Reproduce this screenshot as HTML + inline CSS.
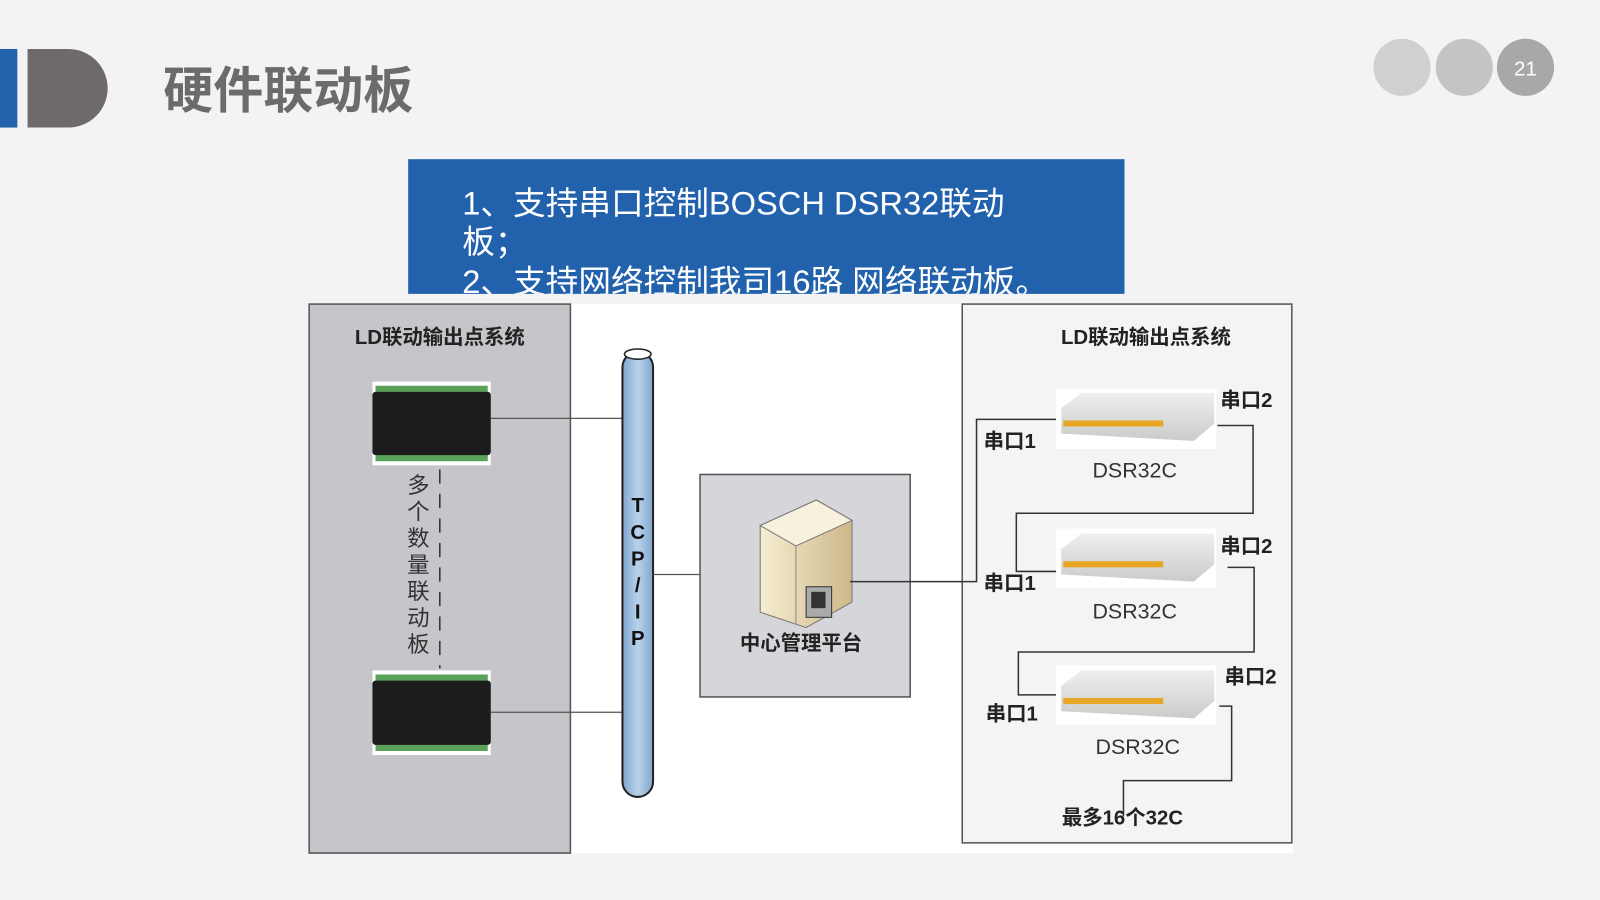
<!DOCTYPE html>
<html><head><meta charset="utf-8"><style>
html,body{margin:0;padding:0;background:#f3f3f5;overflow:hidden}
svg{display:block}
text{font-family:"Liberation Sans","Noto Sans CJK SC",sans-serif}
</style></head><body>
<svg width="1600" height="900" viewBox="0 0 1568 882" xmlns="http://www.w3.org/2000/svg">
<defs>
<linearGradient id="pipe" x1="0" x2="1"><stop offset="0" stop-color="#7ea6cf"/><stop offset="0.5" stop-color="#b9d2ea"/><stop offset="1" stop-color="#7ea6cf"/></linearGradient>
<linearGradient id="srv" x1="0" x2="1"><stop offset="0" stop-color="#f5ecd0"/><stop offset="1" stop-color="#cdb98a"/></linearGradient>
<linearGradient id="dev" x1="0" y1="0" x2="0" y2="1"><stop offset="0" stop-color="#eef0ee"/><stop offset="1" stop-color="#c9ccc9"/></linearGradient>
</defs>
<rect width="1568" height="882" fill="#f3f3f5"/>
<rect x="0" y="48" width="17" height="77" fill="#2262ac"/>
<path d="M27 48 H67 A38.5 38.5 0 0 1 67 125 H27 Z" fill="#6e6a6a"/>
<text x="160" y="106" font-size="49" font-weight="bold" fill="#6b6b6b">硬件联动板</text>
<circle cx="1374" cy="66" r="28" fill="#d0d0d2"/>
<circle cx="1435" cy="66" r="28" fill="#c4c4c6"/>
<circle cx="1495" cy="66" r="28" fill="#a8a8aa"/>
<text x="1495" y="74" font-size="20" fill="#fff" text-anchor="middle">21</text>
<rect x="400" y="156" width="702" height="132" fill="#2262ac"/>
<svg x="400" y="156" width="702" height="132">
<text x="53" y="54" font-size="32" fill="#fff">1、支持串口控制BOSCH DSR32联动</text>
<text x="53" y="92" font-size="32" fill="#fff">板；</text>
<text x="53" y="131" font-size="32" fill="#fff">2、支持网络控制我司16路 网络联动板。</text>
</svg>
<rect x="303" y="298" width="964" height="538" fill="#fff"/>
<rect x="303" y="298" width="256" height="538" fill="#c6c5c9" stroke="#555" stroke-width="1.5"/>
<text x="431" y="337" font-size="20" font-weight="bold" text-anchor="middle" fill="#222">LD联动输出点系统</text>
<g>
<rect x="365" y="374" width="116" height="82" fill="#fff"/>
<rect x="368" y="378" width="110" height="8" fill="#5aa15a"/>
<rect x="368" y="444" width="110" height="8" fill="#5aa15a"/>
<rect x="365" y="384" width="116" height="62" rx="3" fill="#1c1c1c"/>
<rect x="365" y="657" width="116" height="83" fill="#fff"/>
<rect x="368" y="661" width="110" height="8" fill="#5aa15a"/>
<rect x="368" y="728" width="110" height="8" fill="#5aa15a"/>
<rect x="365" y="667" width="116" height="63" rx="3" fill="#1c1c1c"/>
</g>
<line x1="481" y1="410" x2="610" y2="410" stroke="#555" stroke-width="1.2"/>
<line x1="481" y1="698" x2="610" y2="698" stroke="#555" stroke-width="1.2"/>
<line x1="431" y1="460" x2="431" y2="655" stroke="#333" stroke-width="1.5" stroke-dasharray="14,10"/>
<g font-size="22" fill="#333" text-anchor="middle">
<text x="410" y="483">多</text><text x="410" y="509">个</text><text x="410" y="535">数</text><text x="410" y="561">量</text><text x="410" y="587">联</text><text x="410" y="613">动</text><text x="410" y="639">板</text>
</g>
<rect x="610" y="345" width="30" height="436" rx="15" fill="url(#pipe)" stroke="#222" stroke-width="2"/>
<ellipse cx="625" cy="347" rx="13" ry="5" fill="#fff" stroke="#222" stroke-width="1.5"/>
<g font-size="20" font-weight="bold" fill="#111" text-anchor="middle">
<text x="625" y="502">T</text><text x="625" y="528">C</text><text x="625" y="554">P</text><text x="625" y="580">/</text><text x="625" y="606">I</text><text x="625" y="632">P</text>
</g>
<line x1="640" y1="563" x2="748" y2="563" stroke="#555" stroke-width="1.2"/>
<rect x="686" y="465" width="206" height="218" fill="#d6d6da" stroke="#555" stroke-width="1.5"/>
<polygon points="745,515 800,490 835,510 835,590 790,615 745,600" fill="url(#srv)" stroke="#777"/>
<polygon points="745,515 800,490 835,510 780,535" fill="#f8f1dd" stroke="#777"/>
<line x1="780" y1="535" x2="780" y2="612" stroke="#888"/>
<rect x="790" y="575" width="25" height="30" fill="#aaa" stroke="#333"/>
<rect x="795" y="580" width="14" height="16" fill="#333"/>
<text x="785" y="637" font-size="20" font-weight="bold" text-anchor="middle" fill="#222">中心管理平台</text>
<rect x="943" y="298" width="323" height="528" fill="#f4f4f6" stroke="#555" stroke-width="1.5"/>
<text x="1123" y="337" font-size="20" font-weight="bold" text-anchor="middle" fill="#222">LD联动输出点系统</text>
<g fill="none" stroke="#333" stroke-width="1.5">
<polyline points="833,570 957,570 957,411 1035,411"/>
<polyline points="1193,417 1228,417 1228,503 996,503 996,560 1035,560"/>
<polyline points="1203,556 1229,556 1229,639 998,639 998,681 1035,681"/>
<polyline points="1195,692 1207,692 1207,765 1101,765 1101,800"/>
</g>
<g>
<rect x="1035" y="381" width="157" height="59" fill="#fff"/>
<polygon points="1040,400 1060,385 1190,385 1190,415 1170,432 1040,425" fill="url(#dev)"/>
<rect x="1042" y="412" width="98" height="6" fill="#e8a626"/>
<rect x="1035" y="518" width="157" height="58" fill="#fff"/>
<polygon points="1040,538 1060,523 1190,523 1190,553 1170,570 1040,563" fill="url(#dev)"/>
<rect x="1042" y="550" width="98" height="6" fill="#e8a626"/>
<rect x="1035" y="652" width="157" height="58" fill="#fff"/>
<polygon points="1040,672 1060,657 1190,657 1190,687 1170,704 1040,697" fill="url(#dev)"/>
<rect x="1042" y="684" width="98" height="6" fill="#e8a626"/>
</g>
<g font-size="20" font-weight="bold" fill="#222">
<text x="1196" y="399">串口2</text><text x="1196" y="542">串口2</text><text x="1200" y="670">串口2</text>
<text x="964" y="439">串口1</text><text x="964" y="578">串口1</text><text x="966" y="706">串口1</text>
<text x="1100" y="808" text-anchor="middle">最多16个32C</text>
</g>
<g font-size="21" fill="#333" text-anchor="middle">
<text x="1112" y="468">DSR32C</text><text x="1112" y="606">DSR32C</text><text x="1115" y="739">DSR32C</text>
</g>
</svg>
</body></html>
